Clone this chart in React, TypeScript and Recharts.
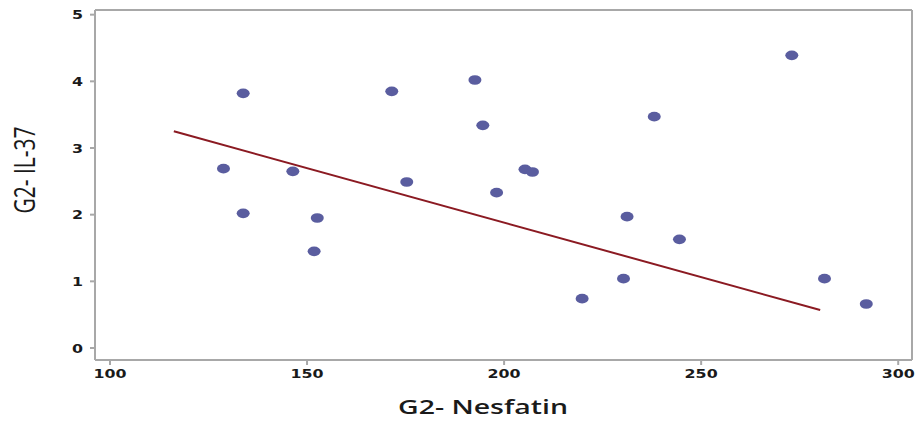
import { ScatterChart, Scatter, XAxis, YAxis, ReferenceLine } from "recharts"

const nesfatin = [128.8, 133.8, 133.8, 146.4, 151.8, 152.6, 171.5, 175.3, 192.6, 194.6, 198.1, 205.3, 207.2, 219.8, 230.3, 231.2, 238.1, 244.5, 273.0, 281.3, 291.9]
const il37 = [2.69, 3.82, 2.02, 2.65, 1.45, 1.95, 3.85, 2.49, 4.02, 3.34, 2.33, 2.68, 2.64, 0.74, 1.04, 1.97, 3.47, 1.63, 4.39, 1.04, 0.66]

// fitted line end points
const fitX = [116.2, 280.2]
const fitY = [3.25, 0.57]

const xTicks = [100, 150, 200, 250, 300]
const yTicks = [0, 1, 2, 3, 4, 5]
const xDomain = [96.2, 303.5]
const yDomain = [-0.18, 5.07]

const points = nesfatin.map((x, i) => ({ x, y: il37[i] }))
const fit = fitX.map((x, i) => ({ x, y: fitY[i] }))

const AXIS = "#a8a8a8"
const TICK_FONT = "'DejaVu Sans', Verdana, sans-serif"
const LABEL_FONT = "'Open Sans', 'Noto Sans', sans-serif"

const Dot = ({ cx, cy }: any) => (
    <ellipse cx={cx} cy={cy} rx={6.5} ry={4.8} fill="#5a5d9f" />
)

const XTick = ({ x, y, payload }: any) => (
    <text
        transform={`translate(${x},${y + 11}) scale(1.22,1)`}
        textAnchor="middle"
        fontFamily={TICK_FONT}
        fontWeight="bold"
        fontSize={13}
        fill="#1a1a1a"
    >
        {payload.value}
    </text>
)

const YTick = ({ x, y, payload }: any) => (
    <text
        transform={`translate(${x - 5},${y}) scale(1.22,1)`}
        textAnchor="end"
        dy="0.36em"
        fontFamily={TICK_FONT}
        fontWeight="bold"
        fontSize={13}
        fill="#1a1a1a"
    >
        {payload.value}
    </text>
)

const YLabel = () => (
    <text
        transform="translate(25,170) scale(1.35,1) rotate(-90)"
        textAnchor="middle"
        dy="0.36em"
        fontFamily={LABEL_FONT}
        fontSize={21}
        fill="#1a1a1a"
    >
        G2- IL-37
    </text>
)

const XLabel = () => (
    <text
        x={483}
        y={414}
        textAnchor="middle"
        textLength={170}
        lengthAdjust="spacingAndGlyphs"
        fontFamily={LABEL_FONT}
        fontWeight={600}
        fontSize={20}
        fill="#1a1a1a"
    >
        G2- Nesfatin
    </text>
)

export default function App() {
    return (
        <div style={{ position: "absolute", left: 0, top: 0, background: "#fff" }}>
            <ScatterChart width={915} height={421} margin={{ top: 10, right: 3, bottom: 0, left: 0 }}>
                <XAxis
                    type="number"
                    dataKey="x"
                    domain={xDomain}
                    ticks={xTicks}
                    height={61}
                    tickSize={5}
                    stroke={AXIS}
                    strokeWidth={2}
                    tick={<XTick />}
                    label={<XLabel />}
                />
                <YAxis
                    type="number"
                    dataKey="y"
                    domain={yDomain}
                    ticks={yTicks}
                    width={95}
                    tickSize={5}
                    stroke={AXIS}
                    strokeWidth={2}
                    tick={<YTick />}
                    label={<YLabel />}
                />
                <ReferenceLine y={yDomain[1]} stroke={AXIS} strokeWidth={2} />
                <ReferenceLine x={xDomain[1]} stroke={AXIS} strokeWidth={2} />
                <Scatter data={points} shape={<Dot />} isAnimationActive={false} />
                <Scatter
                    data={fit}
                    line={{ stroke: "#8b1a22", strokeWidth: 2 }}
                    shape={() => <g />}
                    isAnimationActive={false}
                />
            </ScatterChart>
        </div>
    )
}
